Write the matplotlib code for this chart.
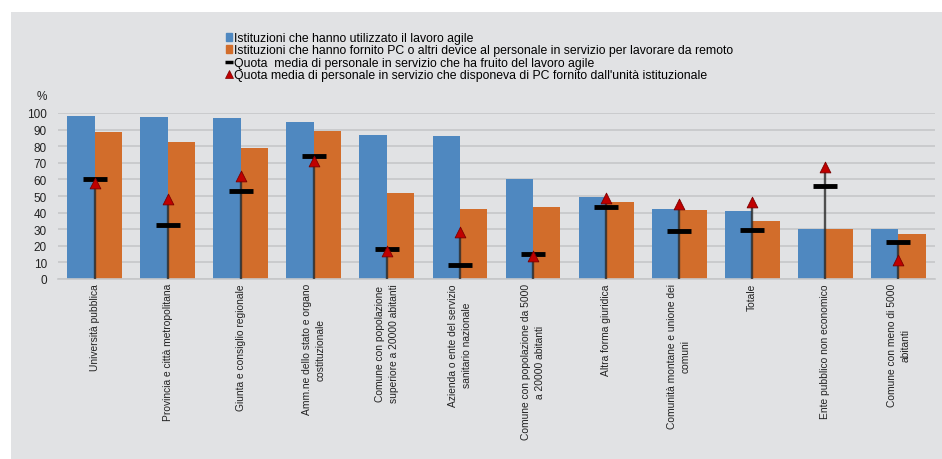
import matplotlib
matplotlib.use("Agg")
import matplotlib.pyplot as plt
from matplotlib.patches import Rectangle
from matplotlib.lines import Line2D
import numpy as np

plt.rcParams["font.family"] = ["Liberation Sans", "DejaVu Sans"]

categories = [
    "Università pubblica",
    "Provincia e città metropolitana",
    "Giunta e consiglio regionale",
    "Amm.ne dello stato e organo\ncostituzionale",
    "Comune con popolazione\nsuperiore a 20000 abitanti",
    "Azienda o ente del servizio\nsanitario nazionale",
    "Comune con popolazione da 5000\na 20000 abitanti",
    "Altra forma giuridica",
    "Comunità montane e unione dei\ncomuni",
    "Totale",
    "Ente pubblico non economico",
    "Comune con meno di 5000\nabitanti",
]
lavoro_agile = [98.0, 97.6, 97.0, 94.4, 86.9, 86.1, 60.2, 49.3, 41.9, 40.8, 30.2, 30.0]
pc_forniti = [88.3, 82.3, 79.0, 88.9, 51.9, 42.3, 43.3, 46.3, 41.6, 34.8, 30.2, 27.2]
quota_agile = [60.0, 32.6, 53.3, 74.2, 18.3, 8.2, 14.9, 43.5, 28.8, 29.8, 56.3, 22.1]
quota_pc = [57.7, 47.9, 62.0, 71.0, 16.7, 28.4, 13.7, 48.9, 45.1, 46.5, 67.4, 11.7]

legend_labels = [
    "Istituzioni che hanno utilizzato il lavoro agile",
    "Istituzioni che hanno fornito PC o altri device al personale in servizio per lavorare da remoto",
    "Quota  media di personale in servizio che ha fruito del lavoro agile",
    "Quota media di personale in servizio che disponeva di PC fornito dall'unità istituzionale",
]

BLUE = "#4f88c0"
ORANGE = "#d26d2b"
RED = "#c00000"
BG = "#e1e2e4"

fig = plt.figure(figsize=(9.42, 4.6), dpi=100)
fig.patch.set_facecolor("white")
fig.patches.append(Rectangle((11 / 942, 0), 1 - 11 / 942, 1 - 13 / 460,
                             transform=fig.transFigure, facecolor=BG,
                             edgecolor="none", zorder=-10))

ax = fig.add_axes([58 / 942, 1 - 280 / 460, 877 / 942, 166 / 460])
ax.set_facecolor(BG)

x = np.arange(len(categories))
w = 0.375
ax.bar(x - w / 2, lavoro_agile, w, color=BLUE, zorder=2)
ax.bar(x + w / 2, pc_forniti, w, color=ORANGE, zorder=2)

# linea verticale da 0 fino al massimo tra le due quote
tops = np.maximum(quota_agile, quota_pc)
ax.vlines(x, 0, tops, color="#2a2a2a", linewidth=1.7, alpha=0.8, zorder=3)
ax.scatter(x, quota_pc, marker="^", s=60, color=RED, edgecolors="#7a0000",
           linewidths=0.6, zorder=5)
ax.plot(x, quota_agile, linestyle="none", marker="_", markersize=17,
        markeredgewidth=3.5, color="black", zorder=4)

ax.set_xlim(-0.5, len(categories) - 0.5)
ax.set_ylim(0, 100)
ax.set_yticks(range(0, 101, 10))
ax.yaxis.grid(True, color="#c6c7c9", linewidth=1.2, zorder=0)
ax.set_axisbelow(True)
for s in ["top", "right", "left"]:
    ax.spines[s].set_visible(False)
ax.spines["bottom"].set_color("#c6c7c9")
ax.spines["bottom"].set_linewidth(1.2)
ax.tick_params(axis="both", length=0, labelsize=8.5, colors="#222222")
ax.tick_params(axis="y", pad=8)
ax.set_xticks(x)
ax.set_xticklabels(categories, rotation=90, ha="center", va="top",
                   multialignment="center", fontsize=7.4, linespacing=1.45)
ax.tick_params(axis="x", pad=3)

fig.text(42 / 942, 1 - 97 / 460, "%", fontsize=8.5, ha="center", va="center",
         color="#222222")

handles = [
    Rectangle((0, 0), 1, 1, color=BLUE),
    Rectangle((0, 0), 1, 1, color=ORANGE),
    Line2D([], [], linestyle="none", marker="_", markersize=6,
           markeredgewidth=2.5, color="black"),
    Line2D([], [], linestyle="none", marker="^", markersize=6,
           color=RED, markeredgecolor="#7a0000", markeredgewidth=0.5),
]
fig.legend(handles, legend_labels, loc="upper left",
           bbox_to_anchor=(220 / 942, 1 - 27 / 460), frameon=False,
           fontsize=8.8, handlelength=0.45, handleheight=0.6, handletextpad=0.2,
           labelspacing=0.02, borderpad=0)

fig.savefig("out.png", dpi=100, facecolor=fig.get_facecolor())
